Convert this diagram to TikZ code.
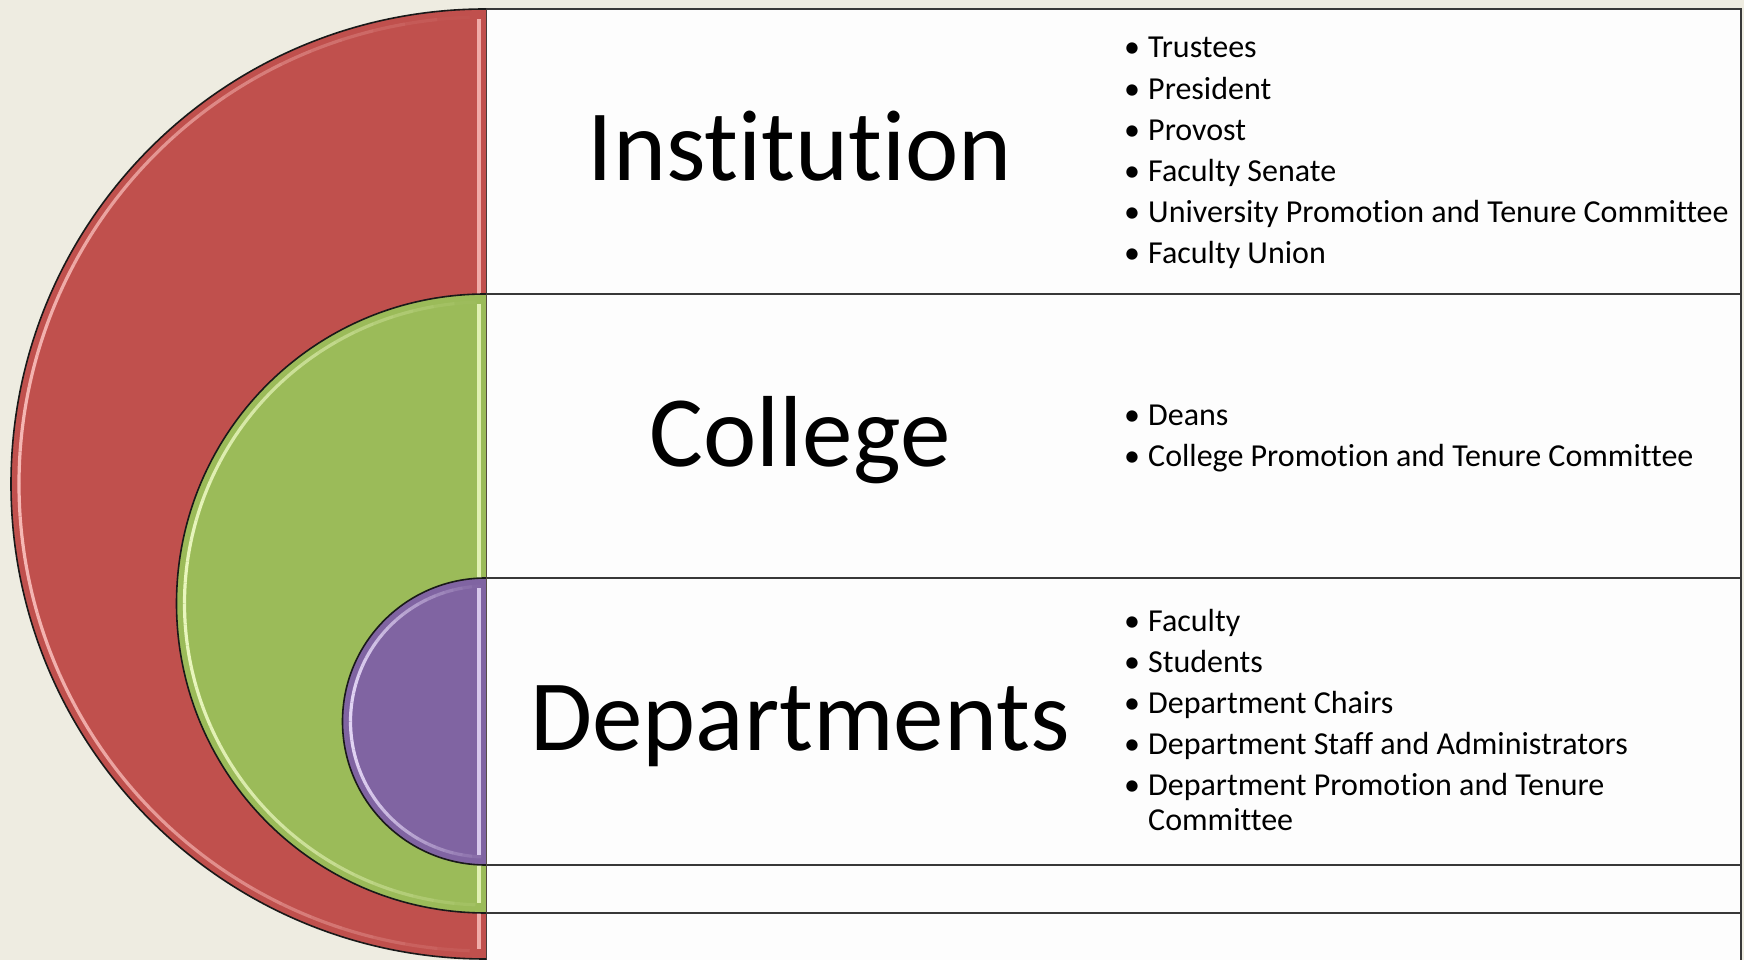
\documentclass[tikz,border=0pt]{standalone}
\usepackage{fontspec}
\setmainfont{Carlito}[RawFeature={-liga;-clig;-dlig;-calt}]
\definecolor{bgc}{HTML}{EEECE1}
\definecolor{boxc}{HTML}{FDFDFD}
\definecolor{redc}{HTML}{C0504D}
\definecolor{redh}{HTML}{F9BDBA}
\definecolor{greenc}{HTML}{9BBB59}
\definecolor{greenh}{HTML}{EEFAC4}
\definecolor{purpc}{HTML}{8064A2}
\definecolor{purph}{HTML}{E8DBF9}
\tikzset{
  sect/.style={draw=black!78, line width=2pt, fill=boxc},
  half/.style={draw=black!90, line width=1.6pt},
  bigtext/.style={font=\fontsize{101}{110}\selectfont, anchor=base, inner sep=0pt},
  itemtext/.style={font=\fontsize{32}{37}\selectfont, anchor=base west, inner sep=0pt},
  bul/.style={font=\fontsize{32}{37}\selectfont, anchor=base west, inner sep=0pt},
}
\newcommand{\halfdisc}[4]{% cy, r, fill, highlight
  \fill[#3] (486pt,#1pt) ++(90:#2pt) arc[start angle=90, end angle=270, radius=#2pt] -- cycle;
  \foreach \a in {92,96,...,266}{%
    \pgfmathsetmacro{\op}{0.95*sin(\a-90)}%
    \draw[#4, line width=3.2pt, opacity=\op, shift={(486pt,#1pt)}]
      (\a:#2pt-8pt) arc[start angle=\a, end angle=\a+4, radius=#2pt-8pt];
  }
  \draw[#4, line width=3.5pt, opacity=0.85] (479pt,#1pt+#2pt-10pt) -- (479pt,#1pt-#2pt+10pt);
  \draw[half] (486pt,#1pt) ++(90:#2pt) arc[start angle=90, end angle=270, radius=#2pt];
}
\begin{document}
\begin{tikzpicture}[x=1pt,y=1pt]
\useasboundingbox (0,0) rectangle (1744,960);
\clip (0,0) rectangle (1744,960);
\fill[bgc] (0,0) rectangle (1744,960);
% rows
\draw[sect] (486,951) rectangle (1741,666);
\draw[sect] (486,666) rectangle (1741,382);
\draw[sect] (486,382) rectangle (1741,95);
\draw[sect] (486,95) rectangle (1741,47);
\draw[sect] (486,47) rectangle (1741,-10);
% half discs
\halfdisc{476}{475}{redc}{redh}
\halfdisc{356.5}{309.5}{greenc}{greenh}
\halfdisc{238.5}{143.5}{purpc}{purph}
% titles
\node[bigtext] (inst) at (800,779) {Institution};
\node[bigtext] (coll) at (800,493) {College};
\node[bigtext] (dept) at (800,209) {Departments};
% lists
\foreach \t/\y [count=\i] in {Trustees/902, President/860.8, Provost/819.6, Faculty Senate/778.4, University Promotion and Tenure Committee/737.2, Faculty Union/696}{
  \node[bul] (ib\i) at (1124,\y) {\textbullet};
  \node[itemtext] (it\i) at (1148,\y) {\t};
}
\foreach \t/\y [count=\i] in {Deans/534, College Promotion and Tenure Committee/493}{
  \node[bul] (cb\i) at (1124,\y) {\textbullet};
  \node[itemtext] (ct\i) at (1148,\y) {\t};
}
\foreach \t/\y [count=\i] in {Faculty/328, Students/287, Department Chairs/246, Department Staff and Administrators/205, Department Promotion and Tenure/164}{
  \node[bul] (db\i) at (1124,\y) {\textbullet};
  \node[itemtext] (dt\i) at (1148,\y) {\t};
}
\node[itemtext] (dt6) at (1148,129.5) {Committee};
\end{tikzpicture}
\end{document}
